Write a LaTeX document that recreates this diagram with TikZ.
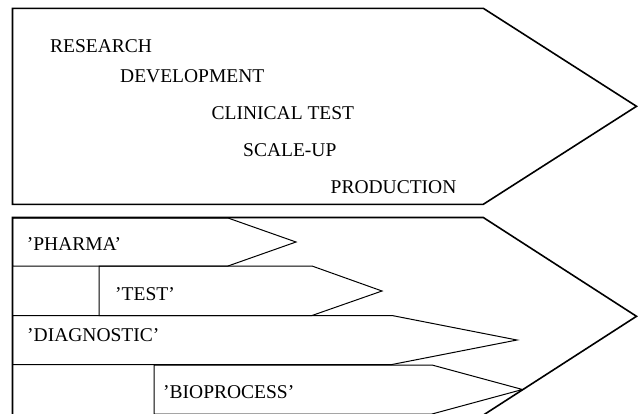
\documentclass[tikz,border=0pt]{standalone}
\usepackage{fontspec}
\setmainfont{Liberation Serif}
\begin{document}
\begin{tikzpicture}[x=1pt,y=-1pt,
  outer/.style={draw=black,line width=1.6pt,line join=miter},
  inner/.style={draw=black,line width=1pt,line join=miter},
  lbl/.style={anchor=base west,inner sep=0pt,font=\fontsize{19.5pt}{22pt}\selectfont}]
\useasboundingbox (0,0) rectangle (638,413);
\clip (0,0) rectangle (638,413);
% top arrow
\draw[outer] (12.5,8.3) -- (483.3,8.3) -- (636.5,106.3) -- (483.3,204.3) -- (12.5,204.3) -- cycle;
\node[lbl] (res) at (50,52) {RESEARCH};
\node[lbl] (dev) at (120,82.5) {DEVELOPMENT};
\node[lbl] (cli) at (211.5,119.3) {CLINICAL TEST};
\node[lbl] (sca) at (243,156.7) {SCALE-UP};
\node[lbl] (pro) at (330.5,193.3) {PRODUCTION};
% inner arrows
\draw[inner] (12.5,218) -- (228,218) -- (296,242) -- (228,266) -- (12.5,266) -- cycle;
\draw[inner] (99,266) -- (312,266) -- (382,291) -- (312,315.5) -- (99,315.5) -- cycle;
\draw[inner] (12.5,315.5) -- (392,315.5) -- (517,340) -- (392,364.5) -- (12.5,364.5) -- cycle;
\draw[inner] (154,365) -- (432,365) -- (522.5,389.5) -- (432,414) -- (154,414) -- cycle;
% bottom arrow
\draw[outer] (12.5,217.5) -- (483.3,217.5) -- (636.5,316.3) -- (483.3,415.1) -- (12.5,415.1) -- cycle;
\node[lbl] (pha) at (26.7,250) {’PHARMA’};
\node[lbl] (tst) at (115,300) {’TEST’};
\node[lbl] (dia) at (27,341.7) {’DIAGNOSTIC’};
\node[lbl] (bio) at (163,398.3) {’BIOPROCESS’};
\end{tikzpicture}
\end{document}
